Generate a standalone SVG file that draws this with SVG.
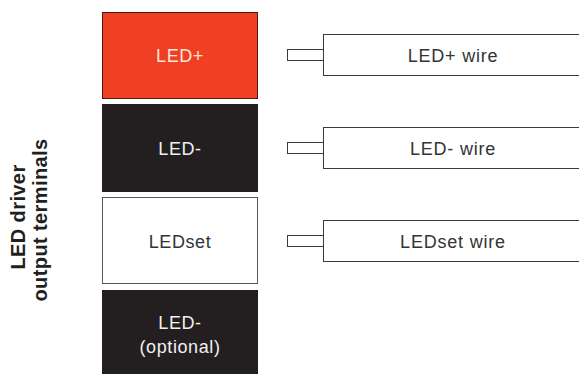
<svg xmlns="http://www.w3.org/2000/svg" width="579" height="374" viewBox="0 0 579 374">
<style>
.term{stroke-width:1}
.tl{font-family:"Liberation Sans",Arial,sans-serif;font-size:18px;letter-spacing:0.6px;text-anchor:middle}
.wire{fill:#fff;stroke:#3a3a3a;stroke-width:1}
.wl{font-family:"Liberation Sans",Arial,sans-serif;font-size:18px;letter-spacing:0.8px;fill:#333;text-anchor:middle}
.side{font-family:"Liberation Sans",Arial,sans-serif;font-size:20px;letter-spacing:0.4px;font-weight:bold;fill:#231f20;text-anchor:middle}
</style>
<rect width="579" height="374" fill="#fff"/>
<g id="label">
<text class="side" transform="translate(25,217) rotate(-90)">LED driver</text>
<text class="side" transform="translate(47,220) rotate(-90)">output terminals</text>
</g>
<g id="t1"><rect class="term" x="102.5" y="12.5" width="155" height="86" fill="#ef4023" stroke="#4a1c16"/><text class="tl" x="180" y="62" fill="#fde4dc">LED+</text></g>
<g id="t2"><rect class="term" x="102.5" y="104.5" width="155" height="87" fill="#231f20" stroke="#231f20"/><text class="tl" x="180" y="155" fill="#f0f0f0">LED-</text></g>
<g id="t3"><rect class="term" x="102.5" y="197.5" width="155" height="86" fill="#fff" stroke="#555"/><text class="tl" x="180" y="248" fill="#333">LEDset</text></g>
<g id="t4"><rect class="term" x="102.5" y="290.5" width="155" height="90" fill="#231f20" stroke="#231f20"/><text class="tl" x="180" y="329" fill="#f0f0f0">LED-</text><text class="tl" x="180" y="353" fill="#f0f0f0">(optional)</text></g>
<g id="connectors">
<g id="w1"><rect class="wire" x="287.5" y="49.5" width="36" height="11"/><rect class="wire" x="323.5" y="34.5" width="270" height="41"/><text class="wl" x="453" y="62">LED+ wire</text></g>
<g id="w2"><rect class="wire" x="287.5" y="142.5" width="36" height="11"/><rect class="wire" x="323.5" y="127.5" width="270" height="41"/><text class="wl" x="453" y="155">LED- wire</text></g>
<g id="w3"><rect class="wire" x="287.5" y="235.5" width="36" height="11"/><rect class="wire" x="323.5" y="220.5" width="270" height="41"/><text class="wl" x="453" y="248">LEDset wire</text></g>
</g>
</svg>
